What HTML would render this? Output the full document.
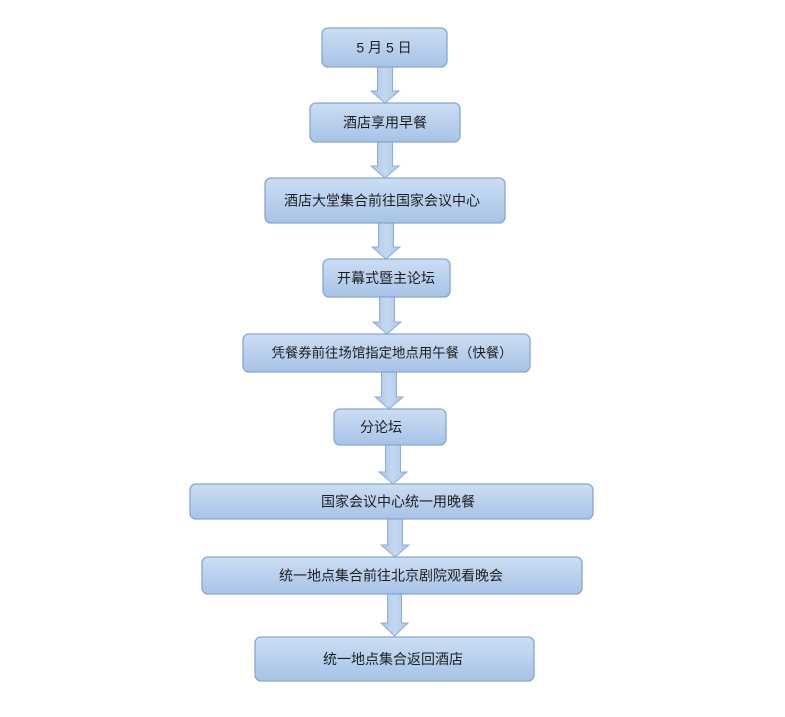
<!DOCTYPE html>
<html>
<head>
<meta charset="utf-8">
<style>
html,body{margin:0;padding:0;background:#fff;}
svg{display:block;}
text{font-family:"Liberation Sans","Noto Sans CJK SC",sans-serif;font-size:14px;fill:#1e1e1e;}
</style>
</head>
<body>
<svg width="785" height="717" viewBox="0 0 785 717" xmlns="http://www.w3.org/2000/svg">
<defs>
<linearGradient id="bg" x1="0" y1="0" x2="0" y2="1">
<stop offset="0" stop-color="#cbdef3"/>
<stop offset="1" stop-color="#a7c3e7"/>
</linearGradient>
<linearGradient id="ag" x1="0" y1="0" x2="1" y2="0">
<stop offset="0" stop-color="#a9c5e8"/>
<stop offset="0.5" stop-color="#c4d8f0"/>
<stop offset="1" stop-color="#a9c5e8"/>
</linearGradient>
</defs>

<g fill="url(#ag)" stroke="#8eadd4" stroke-width="1">
<!-- arrows: shaft width 15, head width 28, head height 12 -->
<path d="M377.5 67 H392.5 V91 H399 L385 103 L371 91 H377.5 Z"/>
<path d="M377.5 142 H392.5 V166 H399 L385 178 L371 166 H377.5 Z"/>
<path d="M378.5 223 H393.5 V247 H400 L386 259 L372 247 H378.5 Z"/>
<path d="M379.5 297 H394.5 V322 H401 L387 334 L373 322 H379.5 Z"/>
<path d="M381.5 372 H396.5 V397 H403 L389 409 L375 397 H381.5 Z"/>
<path d="M385.5 445 H400.5 V472 H407 L393 484 L379 472 H385.5 Z"/>
<path d="M387.5 519 H402.5 V545 H409 L395 557 L381 545 H387.5 Z"/>
<path d="M387.5 594 H401.5 V623 H408 L394.5 636 L381 623 H387.5 Z"/>
</g>

<g fill="url(#bg)" stroke="#86a6cf" stroke-width="1.3">
<rect x="322" y="28" width="125" height="39" rx="6"/>
<rect x="310" y="103" width="150" height="39" rx="6"/>
<rect x="265" y="178" width="240" height="45" rx="6"/>
<rect x="323" y="259" width="127" height="38" rx="6"/>
<rect x="243" y="334" width="287" height="38" rx="6"/>
<rect x="334" y="409" width="112" height="36" rx="6"/>
<rect x="190" y="484" width="403" height="35" rx="6"/>
<rect x="202" y="557" width="380" height="37" rx="6"/>
<rect x="255" y="637" width="279" height="44" rx="6"/>
</g>

<g text-anchor="middle" dominant-baseline="central">
<text x="384" y="47.5">5 月 5 日</text>
<text x="385" y="122.5">酒店享用早餐</text>
<text x="382" y="200.5">酒店大堂集合前往国家会议中心</text>
<text x="386" y="278">开幕式暨主论坛</text>
<text x="392" y="353" style="font-size:13.4px">凭餐券前往场馆指定地点用午餐（快餐）</text>
<text x="381" y="427">分论坛</text>
<text x="398" y="501.5">国家会议中心统一用晚餐</text>
<text x="391" y="575.5">统一地点集合前往北京剧院观看晚会</text>
<text x="393" y="659">统一地点集合返回酒店</text>
</g>
</svg>
</body>
</html>
